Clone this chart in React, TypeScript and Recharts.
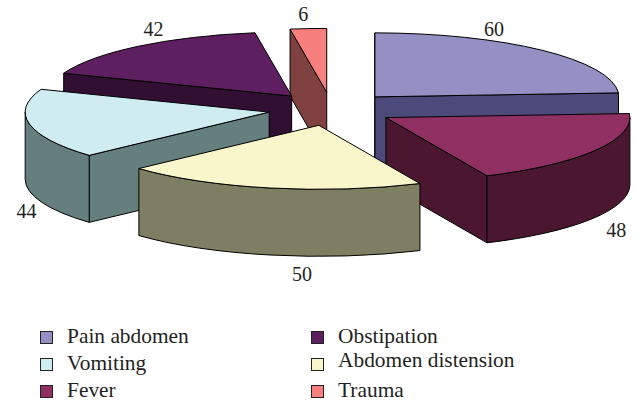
import { Legend, Pie, PieChart } from "recharts";

const categories = ["Pain abdomen", "Fever", "Abdomen distension", "Vomiting", "Obstipation", "Trauma"];
const cases = [60, 48, 50, 44, 42, 6];

const topColors = ["#9490c4", "#902f62", "#faf6cc", "#cfecf1", "#5e1f60", "#f77f7e"];
const wallColors = ["#4b4a7b", "#4b1730", "#7e7e63", "#657f7f", "#300f33", "#804240"];

// back to front, the slices overlap each other
const paintOrder = [0, 5, 4, 3, 1, 2];
// legend rows, in reading order
const legendOrder = [0, 4, 3, 2, 1, 5];
// nudge from the slice rim to where the value sits
const labelNudge = [
  [-48, -21],
  [21, 80],
  [32, 86],
  [-3, 87],
  [15, -17],
  [-5, -15],
];

const data = categories.map((name, i) => ({ name, value: cases[i] }));

const RX = 244;
const RY = 64;
const DEPTH = 67;
const EXPLODE = 0.26;
const rad = (deg: number) => (deg * Math.PI) / 180;

// recharts hands over polar angles, clock angles are easier for the 3d part
function geometry(p: any) {
  const a0 = 90 - p.startAngle;
  const a1 = 90 - p.endAngle;
  const mid = (a0 + a1) / 2;
  const ax = p.cx + EXPLODE * RX * Math.sin(rad(mid));
  const ay = p.cy - EXPLODE * RY * Math.cos(rad(mid));
  const rim = (a: number, dy = 0): [number, number] => [
    ax + RX * Math.sin(rad(a)),
    ay - RY * Math.cos(rad(a)) + dy,
  ];
  return { a0, a1, mid, ax, ay, rim };
}

function arc(from: [number, number], to: [number, number], sweep: number, large = 0) {
  return `M${from[0]},${from[1]}A${RX},${RY} 0 ${large} ${sweep} ${to[0]},${to[1]}`;
}

function Slice3D(props: any) {
  const { a0, a1, ax, ay, rim } = geometry(props);
  const i = props.index;
  const shared = { stroke: "#000", strokeWidth: 1, strokeLinejoin: "round" as const };
  const wall = wallColors[i];

  const cutWall = (a: number) => {
    const [x, y] = rim(a);
    return `M${ax},${ay}L${x},${y}L${x},${y + DEPTH}L${ax},${ay + DEPTH}Z`;
  };
  const sinA0 = Math.sin(rad(a0));
  const sinA1 = Math.sin(rad(a1));

  // only the front half of the rim shows
  const from = Math.max(a0, 90);
  const to = Math.min(a1, 270);
  const outer =
    to > from
      ? arc(rim(from), rim(to), 1) +
        `L${rim(to, DEPTH)[0]},${rim(to, DEPTH)[1]}` +
        arc(rim(to, DEPTH), rim(from, DEPTH), 0).replace(/^M[^A]*/, "") +
        "Z"
      : null;

  const top =
    `M${ax},${ay}L${rim(a0)[0]},${rim(a0)[1]}` +
    arc(rim(a0), rim(a1), 1, a1 - a0 > 180 ? 1 : 0).replace(/^M[^A]*/, "") +
    "Z";

  return (
    <g>
      {sinA0 <= 1e-9 && <path d={cutWall(a0)} fill={wall} {...shared} />}
      {sinA1 >= 1e-9 && <path d={cutWall(a1)} fill={wall} {...shared} />}
      {outer && <path d={outer} fill={wall} {...shared} />}
      <path d={top} fill={topColors[i]} {...shared} />
    </g>
  );
}

function ValueLabel(props: any) {
  const { mid, rim } = geometry(props);
  const [x, y] = rim(mid);
  const [dx, dy] = labelNudge[props.index];
  return (
    <text
      x={x + dx}
      y={y + dy}
      textAnchor="middle"
      dominantBaseline="central"
      fontFamily="'Liberation Serif', serif"
      fontSize={20}
      fill="#231f20"
    >
      {props.value}
    </text>
  );
}

function ChartLegend() {
  return (
    <div
      style={{
        display: "grid",
        gridTemplateColumns: "271px 260px",
        gridAutoRows: "27px",
        fontFamily: "'Liberation Serif', serif",
        fontSize: 21.4,
        color: "#231f20",
      }}
    >
      {legendOrder.map((i) => (
        <div key={i} style={{ display: "flex", alignItems: "center" }}>
          <span
            style={{
              width: 11,
              height: 11,
              background: topColors[i],
              border: "1px solid #222",
              marginRight: 14,
            }}
          />
          {/* the distension entry sits a little high in the original */}
          <span style={{ position: "relative", top: categories[i] === "Abdomen distension" ? -4 : -1 }}>
            {categories[i]}
          </span>
        </div>
      ))}
    </div>
  );
}

export default function App() {
  return (
    <div style={{ position: "absolute", left: 0, top: 0, width: 636, height: 402, background: "#fff" }}>
      <PieChart width={636} height={402} margin={{ top: 0, right: 0, bottom: 0, left: 0 }}>
        {paintOrder.map((k, n) => (
          <Pie
            key={k}
            data={data}
            dataKey="value"
            nameKey="name"
            cx={331.5}
            cy={109}
            innerRadius={0}
            outerRadius={RX}
            startAngle={90}
            endAngle={-270}
            paddingAngle={0}
            isAnimationActive={false}
            labelLine={false}
            label={n === paintOrder.length - 1 ? ValueLabel : false}
            shape={(props: any) => (props.index === k ? <Slice3D {...props} /> : <g />)}
          />
        ))}
        <Legend
          content={<ChartLegend />}
          verticalAlign="bottom"
          wrapperStyle={{ left: 40, top: 324, bottom: "auto", width: 540 }}
        />
      </PieChart>
    </div>
  );
}
